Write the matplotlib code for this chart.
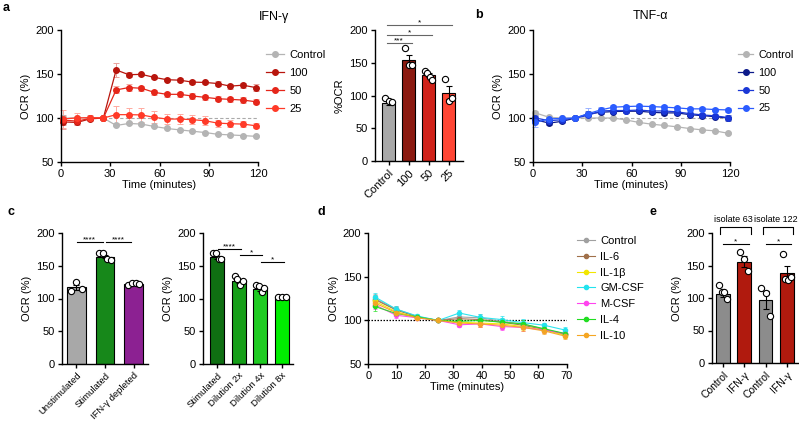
import numpy as np
import matplotlib
matplotlib.use("Agg")
import matplotlib.pyplot as plt
from matplotlib.lines import Line2D

plt.rcParams['font.family'] = ['Liberation Sans', 'DejaVu Sans']
plt.rcParams['font.size'] = 8

W, H = 799, 424

# ---------------- data ----------------
# a : IFN-g time course
t_seahorse = [1.5, 9.8, 17.7, 25.8, 33.6, 41.3, 49.0, 56.7, 64.5, 72.2, 80.0, 87.7, 95.4, 103.0, 110.8, 118.6]
ifn_labels = ['Control', '100', '50', '25']
ifn_ctrl = [99.5, 100.5, 99.5, 100, 91.5, 93.8, 93.1, 90.4, 88.1, 86.5, 85.0, 83.5, 81.5, 80.8, 80.0, 79.2]
ifn_100 = [95.5, 95.0, 99.0, 100, 154.6, 149.2, 149.6, 146.2, 143.5, 143.0, 140.8, 140.4, 139.2, 136.2, 137.3, 134.6]
ifn_50 = [97.5, 96.5, 99.5, 100, 131.9, 134.6, 133.8, 129.2, 126.9, 126.9, 125.0, 123.5, 121.9, 121.2, 120.4, 118.5]
ifn_25 = [99.0, 100.0, 100.5, 100, 103.8, 103.8, 103.5, 100.8, 98.8, 98.8, 98.1, 96.9, 94.2, 93.5, 93.1, 91.2]
ifn_ctrl_err = [2, 1, 1, 0, 1, 1, 1, 1, 1, 1, 1, 1, 1, 1, 1, 1]
ifn_100_err = [8, 3, 2, 0, 8, 3, 2, 2, 2, 2, 2, 2, 3, 3, 3, 4]
ifn_50_err = [5, 3, 2, 0, 4, 4, 3, 3, 3, 3, 3, 3, 3, 3, 3, 3]
ifn_25_err = [10, 6, 3, 0, 10, 8, 8, 7, 6, 6, 5, 5, 4, 4, 3, 3]

# a : bar chart
ifn_bar_labels = ['Control', '100', '50', '25']
ifn_bar_mean = [88, 154, 131, 104]
ifn_bar_sem = [2, 8, 3, 10]
ifn_bar_pts = [[96, 91, 90], [172, 146, 147], [138, 134, 128, 124], [125, 91, 96]]
ifn_bar_sig = [(0, 1, '***', 180), (0, 2, '*', 193), (0, 3, '*', 207)]

# b : TNF-a time course
tnf_ctrl = [105.8, 100.8, 100, 100, 100, 100, 100, 97.7, 95.0, 93.0, 91.5, 90.0, 88.0, 86.5, 85.4, 82.7]
tnf_100 = [98.0, 94.2, 96.2, 100, 104.6, 106.5, 107.3, 107.7, 107.7, 106.5, 105.8, 105.8, 103.8, 102.7, 101.5, 100.0]
tnf_50 = [100.0, 97.0, 98.0, 100, 103.0, 108.0, 108.5, 108.5, 109.0, 108.0, 108.0, 107.0, 105.0, 103.5, 102.5, 100.5]
tnf_25 = [95.0, 99.0, 99.5, 100, 105.0, 109.2, 112.3, 113.0, 113.5, 113.0, 112.3, 111.5, 110.4, 110.4, 109.6, 109.2]
tnf_ctrl_err = [2, 1, 1, 0, 1, 1, 1, 1, 1, 1, 1, 1, 1, 1, 1, 1]
tnf_100_err = [4, 2, 2, 0, 3, 2, 2, 2, 2, 2, 2, 2, 2, 2, 2, 3]
tnf_50_err = [3, 2, 2, 0, 3, 3, 2, 2, 2, 2, 2, 2, 2, 2, 2, 3]
tnf_25_err = [5, 2, 2, 0, 6, 3, 2, 2, 2, 2, 2, 2, 2, 2, 2, 2]

# c : conditioned medium
c1_labels = ['Unstimulated', 'Stimulated', 'IFN-γ depleted']
c1_mean = [117, 164, 122]
c1_sem = [4, 2, 1.5]
c1_pts = [[111, 125, 115], [169, 170, 160, 159], [120, 124, 124, 122]]
c1_sig = [(0, 1, '****', 186), (1, 2, '****', 186)]

c2_labels = ['Stimulated', 'Dilution 2x', 'Dilution 4x', 'Dilution 8x']
c2_mean = [163, 127, 114, 103]
c2_sem = [2.5, 3, 2.5, 0.5]
c2_pts = [[169, 170, 160, 160], [134, 130, 120, 126], [120, 119, 110, 116], [102, 103, 103]]
c2_sig = [(0, 1, '****', 176), (1, 2, '*', 167), (2, 3, '*', 155)]

# d : other cytokines
d_times = [2.3, 9.8, 17.3, 24.7, 32.1, 39.5, 47.0, 54.5, 62.0, 69.4]
d_labels = ['Control', 'IL-6', 'IL-1β', 'GM-CSF', 'M-CSF', 'IL-4', 'IL-10']
d_ctrl = [125, 113, 104.5, 100, 104, 103, 99, 96, 90, 84.5]
d_il6 = [124, 112, 104, 100, 102, 101, 98, 94.5, 89.5, 84]
d_il1b = [122, 110, 103.5, 100, 98, 97, 96, 93, 89, 83]
d_gmcsf = [127, 113, 105, 100, 108.5, 103.5, 101, 97.5, 94.5, 89]
d_mcsf = [118, 106, 103, 100, 95, 96, 93, 92, 89, 85]
d_il4 = [116, 108, 104, 100, 99, 100, 98, 96, 90.5, 85]
d_il10 = [120, 109, 103, 100, 97, 96, 94.5, 92, 88, 82]
d_err = [5, 3, 2, 0, 3, 4, 4, 4, 3, 3]

# e : isolates
e_labels = ['Control', 'IFN-γ', 'Control', 'IFN-γ']
e_groups = ['isolate 63', 'isolate 122']
e_mean = [106, 156, 97, 138]
e_sem = [4, 9, 14, 11]
e_pts = [[120, 109, 110, 98], [171, 160, 141], [115, 107, 72], [168, 129, 127, 133]]
e_sig = [(0, 1, '*', 183), (2, 3, '*', 183)]

# ---------------- helpers ----------------
fig = plt.figure(figsize=(W / 100, H / 100), dpi=100)


def px_axes(x0, y0, x1, y1):
    return fig.add_axes([x0 / W, 1 - y1 / H, (x1 - x0) / W, (y1 - y0) / H])


def prism(ax):
    for s in ['top', 'right']:
        ax.spines[s].set_visible(False)
    for s in ['left', 'bottom']:
        ax.spines[s].set_linewidth(1.0)
    ax.tick_params(direction='out', length=3, width=1, labelsize=8, pad=2)


def timecourse(ax, t, series, errs, colors, ecolors):
    for y, e, c, ec in zip(series, errs, colors, ecolors):
        ax.errorbar(t, y, yerr=e, fmt='-o', color=c, ecolor=ec, ms=4, lw=0.9,
                    elinewidth=0.7, capsize=2, capthick=0.7, clip_on=False)
    ax.set_xlim(0, 120)
    ax.set_ylim(50, 200)
    ax.set_xticks([0, 30, 60, 90, 120])
    ax.set_yticks([50, 100, 150, 200])
    ax.set_xlabel('Time (minutes)', labelpad=1)
    ax.set_ylabel('OCR (%)', labelpad=3)
    prism(ax)


def legend(ax, labels, colors, x, y, spacing, ms=4, lw=0.9, hl=1.6, fs=8):
    handles = [Line2D([], [], color=c, marker='o', ms=ms, lw=lw) for c in colors]
    ax.legend(handles, labels, loc='upper left', bbox_to_anchor=(x / W, 1 - y / H),
              bbox_transform=fig.transFigure, frameon=False, handlelength=hl,
              handletextpad=0.5, labelspacing=spacing, fontsize=fs, borderpad=0,
              borderaxespad=0)


def bars(ax, means, sems, pts, colors, labels, width, xlim, ylim=(0, 200), rot_fs=7.5):
    x = np.arange(len(means))
    ax.bar(x, means, width=width, color=colors, edgecolor='black', linewidth=0.8, zorder=2)
    ax.errorbar(x, means, yerr=sems, fmt='none', ecolor='black', elinewidth=0.8,
                capsize=2.5, capthick=0.8, zorder=3)
    for i, p in enumerate(pts):
        off = np.linspace(-width * 0.3, width * 0.3, len(p))
        ax.plot(x[i] + off, p, 'o', mfc='white', mec='black', mew=0.8, ms=4.5,
                zorder=4, clip_on=False)
    ax.set_xlim(*xlim)
    ax.set_ylim(*ylim)
    prism(ax)
    ax.set_yticks([0, 50, 100, 150, 200])
    ax.set_xticks(x)
    ax.set_xticklabels(labels, rotation=45, ha='right', rotation_mode='anchor', fontsize=rot_fs)


def sig(ax, comps, x0off=0.0, x1off=0.0, color='black'):
    for i, j, s, h in comps:
        ax.plot([i + x0off, j + x1off], [h, h], color=color, lw=0.8, clip_on=False)
        ax.text((i + j + x0off + x1off) / 2, h - 2, s, ha='center', va='bottom',
                fontsize=6, clip_on=False)


# ---------------- a ----------------
red_cols = ['#b4b4b4', '#b8150d', '#e5261a', '#ff3a28']
red_ecols = ['#d0d0d0', '#e9a29c', '#f4aaa2', '#ffaaa0']
ax = px_axes(61, 30, 258, 162)
ax.hlines(100, t_seahorse[3], 120, color='#aaaaaa', lw=0.8, ls=(0, (3, 2)), zorder=0)
timecourse(ax, t_seahorse, [ifn_ctrl, ifn_100, ifn_50, ifn_25],
           [ifn_ctrl_err, ifn_100_err, ifn_50_err, ifn_25_err], red_cols, red_ecols)
legend(ax, ifn_labels, red_cols, 266, 50, 0.72)
fig.text(274 / W, 1 - 17 / H, 'IFN-γ', ha='center', va='center', fontsize=9)

ax = px_axes(374.5, 30, 462.5, 161)
bars(ax, ifn_bar_mean, ifn_bar_sem, ifn_bar_pts,
     ['#a8a8a8', '#8b1a10', '#d0231a', '#ff4634'], ifn_bar_labels, 0.65, (-0.7, 3.7), rot_fs=8)
ax.set_ylabel('%OCR', labelpad=3)
sig(ax, ifn_bar_sig, -0.08, 0.15, color='#666666')

# ---------------- b ----------------
blue_cols = ['#b4b4b4', '#0c1a8a', '#1a37d6', '#2b5cff']
blue_ecols = ['#d0d0d0', '#8a90c8', '#90a0ea', '#9ab2ff']
ax = px_axes(533, 30, 730, 162)
ax.hlines(100, t_seahorse[3], 120, color='#aaaaaa', lw=0.8, ls=(0, (3, 2)), zorder=0)
timecourse(ax, t_seahorse, [tnf_ctrl, tnf_100, tnf_50, tnf_25],
           [tnf_ctrl_err, tnf_100_err, tnf_50_err, tnf_25_err], blue_cols, blue_ecols)
legend(ax, ifn_labels, blue_cols, 738, 50, 0.72, hl=1.4, fs=7.8)
fig.text(650 / W, 1 - 16 / H, 'TNF-α', ha='center', va='center', fontsize=9)

# ---------------- c ----------------
ax = px_axes(62, 233, 148, 364)
bars(ax, c1_mean, c1_sem, c1_pts, ['#a8a8a8', '#17881a', '#8c2192'], c1_labels, 0.66, (-0.5, 2.5),
     rot_fs=6.8)
ax.set_ylabel('OCR (%)', labelpad=3)
sig(ax, c1_sig, 0.02, -0.08)

ax = px_axes(202.7, 233, 292.5, 364)
bars(ax, c2_mean, c2_sem, c2_pts, ['#0f6f12', '#159e18', '#1fcb22', '#00ee00'], c2_labels, 0.65, (-0.68, 3.5),
     rot_fs=6.8)
ax.set_ylabel('OCR (%)', labelpad=3)
sig(ax, c2_sig, 0.05, 0.1)

# ---------------- d ----------------
d_cols = ['#a0a0a0', '#a0704a', '#f2e600', '#22e3ee', '#ff44ee', '#22dd22', '#f5a623']
ax = px_axes(368.3, 233.3, 566.7, 364)
ax.hlines(100, 0, 70, color='black', lw=0.9, ls=(0, (1.2, 1.2)), zorder=0)
for y, c in zip([d_ctrl, d_il6, d_il1b, d_gmcsf, d_mcsf, d_il4, d_il10], d_cols):
    ax.errorbar(d_times, y, yerr=d_err, fmt='-o', color=c, ecolor=c, ms=3, lw=0.8,
                elinewidth=0.5, capsize=1.5, capthick=0.5, alpha=0.95, clip_on=False)
ax.set_xlim(0, 70)
ax.set_ylim(50, 200)
ax.set_xticks([0, 10, 20, 30, 40, 50, 60, 70])
ax.set_yticks([50, 100, 150, 200])
ax.set_xlabel('Time (minutes)', labelpad=1)
ax.set_ylabel('OCR (%)', labelpad=3)
prism(ax)
legend(ax, d_labels, d_cols, 577, 236, 0.52, ms=3, lw=0.8)

# ---------------- e ----------------
ax = px_axes(712, 233, 798.5, 363)
bars(ax, e_mean, e_sem, e_pts, ['#8c8c8c', '#b01a0e', '#8c8c8c', '#b01a0e'], e_labels, 0.65, (-0.52, 3.55),
     rot_fs=7.5)
ax.set_ylabel('OCR (%)', labelpad=3)
sig(ax, e_sig, 0.0, 0.2)
for k, g in enumerate(e_groups):
    x0, x1 = 2 * k - 0.14, 2 * k + 1.3
    ax.plot([x0, x0, x1, x1], [199, 210, 210, 199], color='black', lw=0.8, clip_on=False)
    ax.text((x0 + x1) / 2 - 0.1, 214, g, ha='center', va='bottom', fontsize=6.5, clip_on=False)

# ---------------- panel letters ----------------
for lab, x, y in [('a', 3, 8), ('b', 475, 15), ('c', 7, 212), ('d', 318, 212), ('e', 649, 212)]:
    fig.text(x / W, 1 - y / H, lab, fontsize=9, fontweight='bold', ha='left', va='center')

fig.savefig('out.png', dpi=100)
